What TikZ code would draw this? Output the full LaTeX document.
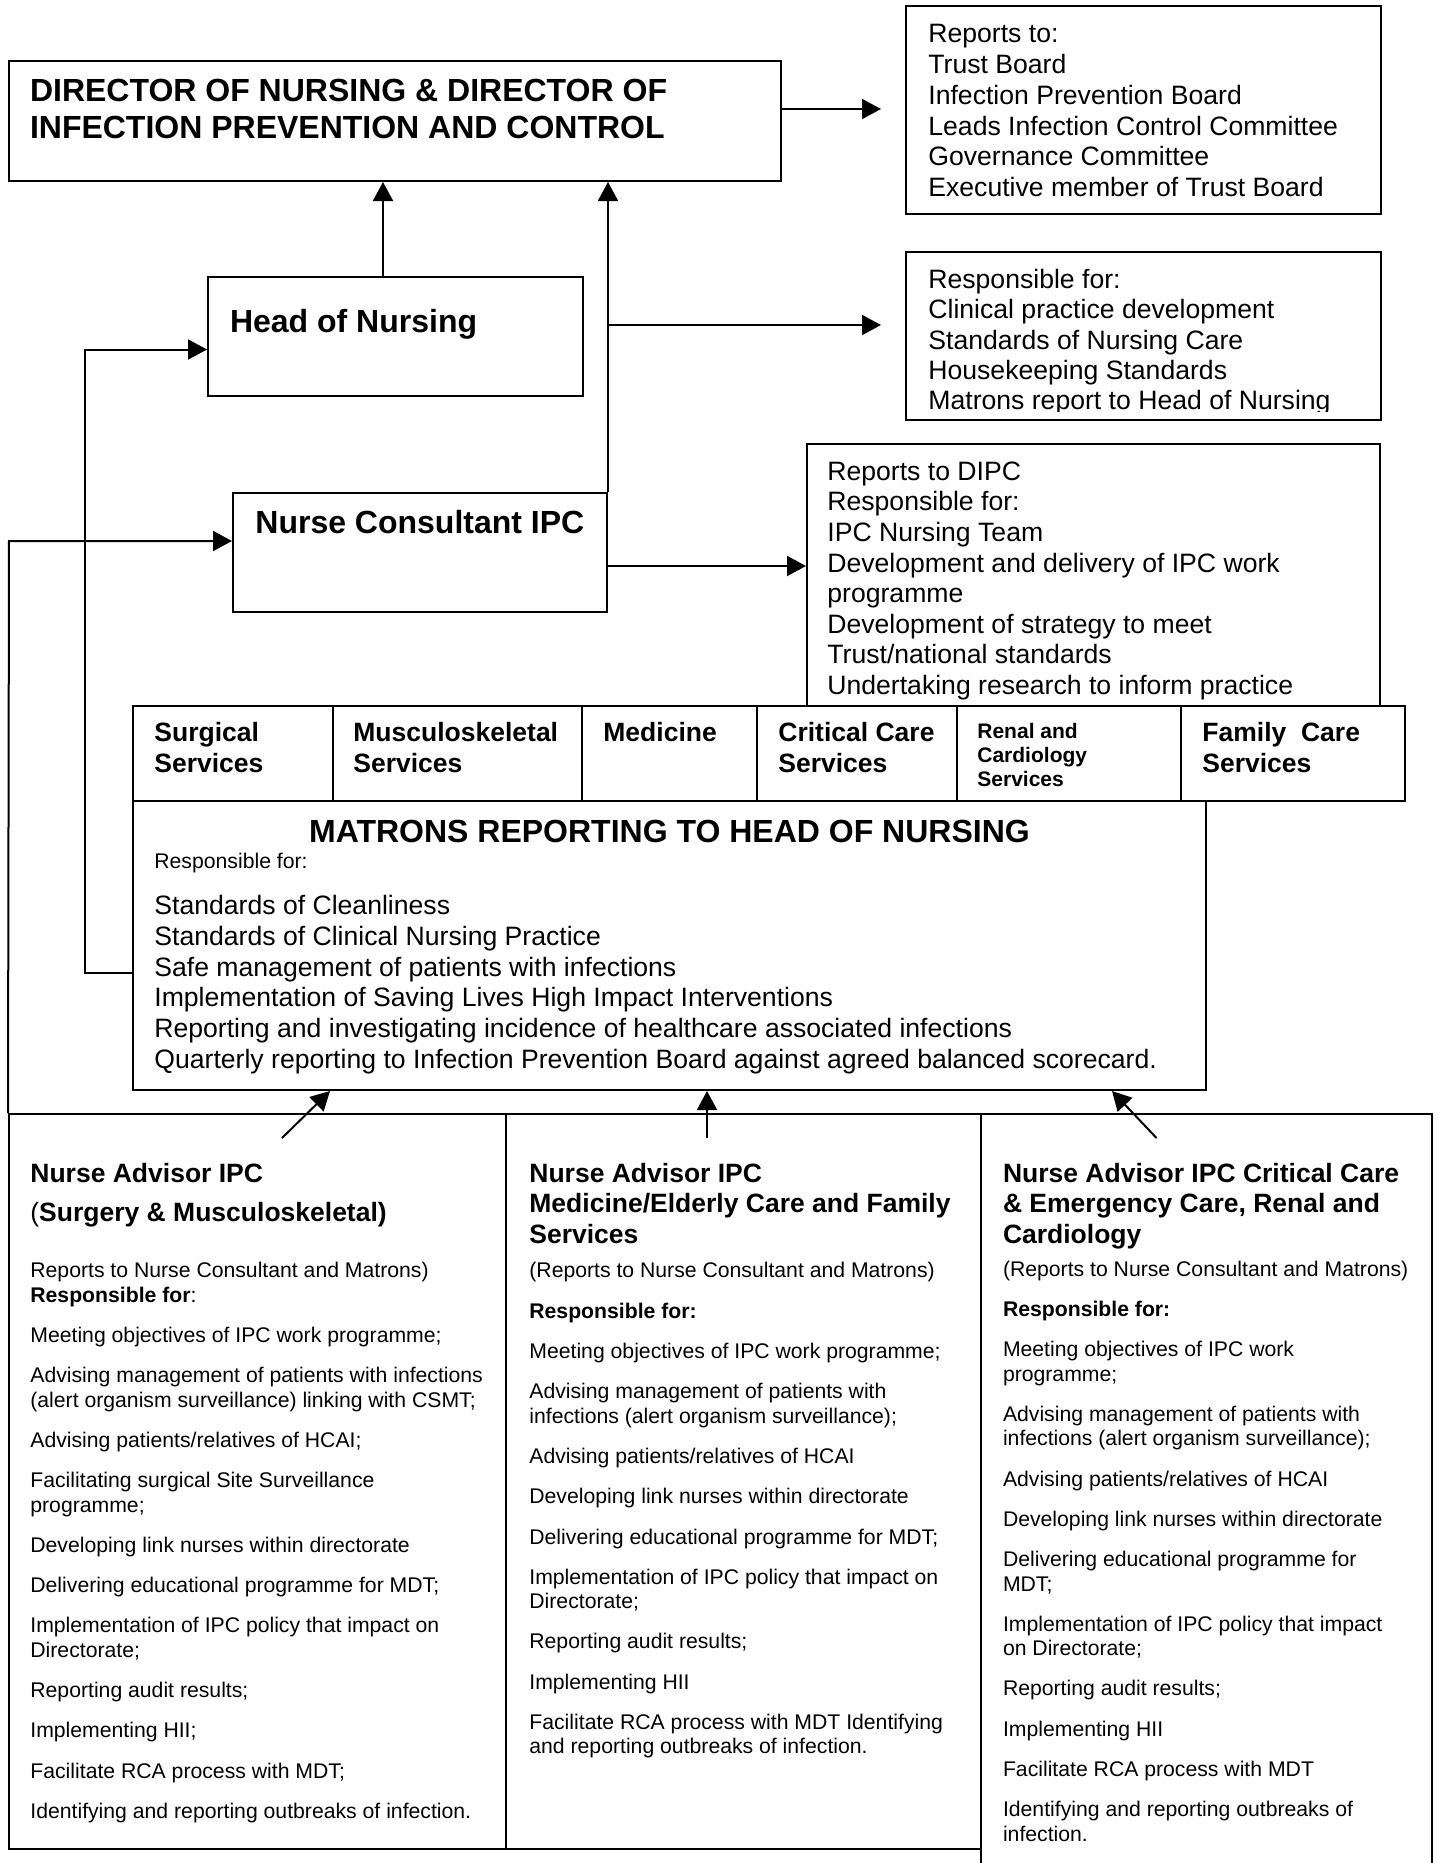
\documentclass[tikz,border=0pt]{standalone}
\usepackage{fontspec}
\setmainfont{Liberation Sans}
\usetikzlibrary{arrows.meta,fit}
\newcommand{\mystrut}{\rule{0pt}{0.8em}}
\begin{document}
\begin{tikzpicture}[x=0.5pt,y=-0.5pt,
  box/.style={draw, line width=1pt, inner sep=0pt},
  ln/.style={line width=1pt},
  arr/.style={line width=1pt, -{Triangle[length=9.5pt,width=10pt]}},
  txt/.style={inner sep=0pt, align=left, anchor=north west},
  one/.style={inner sep=0pt, anchor=base west},
  bigb/.style={font=\fontsize{16}{18.5}\selectfont\bfseries},
  bodyA/.style={font=\fontsize{13.3}{15.42}\selectfont},
  bodyB/.style={font=\fontsize{13.3}{15.2}\selectfont},
  bodyC/.style={font=\fontsize{13.3}{15.3}\selectfont},
  svc/.style={font=\fontsize{13.25}{15.5}\selectfont\bfseries},
  svcs/.style={font=\fontsize{10.5}{12}\selectfont\bfseries},
  ttl/.style={font=\fontsize{13.25}{15.25}\selectfont\bfseries},
  small/.style={font=\fontsize{10.6}{12.15}\selectfont}
]
\useasboundingbox (0,0) rectangle (1438,1863);

% ---------- boxes ----------
\node[box, fit={(9,61) (781,181)}] (dir) {};
\node[box, fit={(906,6) (1381,214)}] (rep) {};
\node[box, fit={(906,252) (1381,420)}] (resp) {};
\node[box, fit={(208,277) (583,396)}] (hon) {};
\node[box, fit={(233,493) (607,612)}] (nc) {};
\node[box, fit={(807,444) (1380,706)}] (ipc) {};
\node[box, fit={(133,706) (333,801)}] (sv1) {};
\node[box, fit={(333,706) (582,801)}] (sv2) {};
\node[box, fit={(582,706) (757,801)}] (sv3) {};
\node[box, fit={(757,706) (957,801)}] (sv4) {};
\node[box, fit={(957,706) (1181,801)}] (sv5) {};
\node[box, fit={(1181,706) (1405,801)}] (sv6) {};
\node[box, fit={(133,801) (1206,1090)}] (mat) {};
\node[box, fit={(9,1114) (506,1849)}] (na1) {};
\node[box, fit={(506,1114) (981,1849)}] (na2) {};
\node[inner sep=0pt, fit={(981,1114) (1432,1863)}] (na3) {};
\draw[ln] (na3.south west) -- (na3.north west) -- (na3.north east) -- (na3.south east);

% ---------- texts ----------
\node[txt, bigb] (dirt) at (29.6,75.4)
  {\mystrut DIRECTOR OF NURSING \& DIRECTOR OF\\INFECTION PREVENTION AND CONTROL};
\node[txt, bodyA] (rept) at (928,20.9)
  {\mystrut Reports to:\\Trust Board\\Infection Prevention Board\\Leads Infection Control Committee\\Governance Committee\\Executive member of Trust Board};
\begin{scope}
  \clip (906,252) rectangle (1381,411);
  \node[txt, bodyB] (respt) at (928,266.7)
    {\mystrut Responsible for:\\Clinical practice development\\Standards of Nursing Care\\Housekeeping Standards\\Matrons report to Head of Nursing};
\end{scope}
\node[one, bigb] (hont) at (229.6,332) {Head of Nursing};
\node[one, bigb] (nct) at (255,533) {Nurse Consultant IPC};
\node[txt, bodyC] (ipct) at (827,458.7)
  {\mystrut Reports to DIPC\\Responsible for:\\IPC Nursing Team\\Development and delivery of IPC work\\programme\\Development of strategy to meet\\Trust/national standards\\Undertaking research to inform practice};

\node[txt, svc] (sv1t) at (154,719.8) {\mystrut Surgical\\Services};
\node[txt, svc] (sv2t) at (353,719.8) {\mystrut Musculoskeletal\\Services};
\node[txt, svc] (sv3t) at (603,719.8) {\mystrut Medicine};
\node[txt, svc] (sv4t) at (778,719.8) {\mystrut Critical Care\\Services};
\node[txt, svcs] (sv5t) at (977,721.2) {\mystrut Renal and\\Cardiology\\Services};
\node[txt, svc] (sv6t) at (1202,719.8) {\mystrut Family \ Care\\Services};

\node[inner sep=0pt, anchor=base, bigb] (matt) at (669.5,842) {MATRONS REPORTING TO HEAD OF NURSING};
\node[one, small] (matr) at (154,868) {Responsible for:};
\node[txt, bodyA] (matl) at (154,892.7)
  {\mystrut Standards of Cleanliness\\Standards of Clinical Nursing Practice\\Safe management of patients with infections\\Implementation of Saving Lives High Impact Interventions\\Reporting and investigating incidence of healthcare associated infections\\Quarterly reporting to Infection Prevention Board against agreed balanced scorecard.};

\node[txt, ttl] (na1h) at (30,1160.8)
  {\mystrut Nurse Advisor IPC\\[4.5pt]{\mdseries(}Surgery \& Musculoskeletal)};
\node[txt, small] (na1b) at (30,1260.6)
  {\mystrut Reports to Nurse Consultant and Matrons)\\
   \textbf{Responsible for}:\\[8pt]
   Meeting objectives of IPC work programme;\\[8pt]
   Advising management of patients with infections\\
   (alert organism surveillance) linking with CSMT;\\[8pt]
   Advising patients/relatives of HCAI;\\[8pt]
   Facilitating surgical Site Surveillance\\
   programme;\\[8pt]
   Developing link nurses within directorate\\[8pt]
   Delivering educational programme for MDT;\\[8pt]
   Implementation of IPC policy that impact on\\
   Directorate;\\[8pt]
   Reporting audit results;\\[8pt]
   Implementing HII;\\[8pt]
   Facilitate RCA process with MDT;\\[8pt]
   Identifying and reporting outbreaks of infection.};

\node[txt, ttl] (na2h) at (529,1160.8)
  {\mystrut Nurse Advisor IPC\\Medicine/Elderly Care and Family\\Services};
\node[txt, small] (na2b) at (529,1260.6)
  {\mystrut (Reports to Nurse Consultant and Matrons)\\[8pt]
   \textbf{Responsible for:}\\[8pt]
   Meeting objectives of IPC work programme;\\[8pt]
   Advising management of patients with\\
   infections (alert organism surveillance);\\[8pt]
   Advising patients/relatives of HCAI\\[8pt]
   Developing link nurses within directorate\\[8pt]
   Delivering educational programme for MDT;\\[8pt]
   Implementation of IPC policy that impact on\\
   Directorate;\\[8pt]
   Reporting audit results;\\[8pt]
   Implementing HII\\[8pt]
   Facilitate RCA process with MDT Identifying\\
   and reporting outbreaks of infection.};

\node[txt, ttl] (na3h) at (1002.6,1160.8)
  {\mystrut Nurse Advisor IPC Critical Care\\\& Emergency Care, Renal and\\Cardiology};
\node[txt, small] (na3b) at (1002.6,1259)
  {\mystrut (Reports to Nurse Consultant and Matrons)\\[8pt]
   \textbf{Responsible for:}\\[8pt]
   Meeting objectives of IPC work\\
   programme;\\[8pt]
   Advising management of patients with\\
   infections (alert organism surveillance);\\[8pt]
   Advising patients/relatives of HCAI\\[8pt]
   Developing link nurses within directorate\\[8pt]
   Delivering educational programme for\\
   MDT;\\[8pt]
   Implementation of IPC policy that impact\\
   on Directorate;\\[8pt]
   Reporting audit results;\\[8pt]
   Implementing HII\\[8pt]
   Facilitate RCA process with MDT\\[8pt]
   Identifying and reporting outbreaks of\\
   infection.};

% ---------- connectors ----------
\coordinate (xa) at (383,0);
\draw[arr] (hon.north -| xa) -- (dir.south -| xa);
\draw[arr] (nc.north east) -- (nc.north east |- dir.south);
\coordinate (rtip) at (881,109);
\draw[arr] (dir.east |- rtip) -- (rtip);
\coordinate (rstip) at (881,325);
\draw[arr] (nc.north east |- rstip) -- (rstip);
\coordinate (ya) at (0,566);
\draw[arr] (nc.east |- ya) -- (ipc.west |- ya);
\coordinate (la) at (85,973);
\coordinate (lb) at (85,349.5);
\draw[arr] (mat.west |- la) -- (la) -- (lb) -- (hon.west |- lb);
\coordinate (lc) at (9,541);
\draw[arr] (na1.north west) -- (lc) -- (nc.west |- lc);
\coordinate (u1) at (282,1138);
\coordinate (v1) at (330,0);
\draw[arr] (u1) -- (mat.south -| v1);
\coordinate (u2) at (707,1138);
\draw[arr] (u2) -- (mat.south -| u2);
\coordinate (u3) at (1156.5,1138);
\coordinate (v3) at (1112,0);
\draw[arr] (u3) -- (mat.south -| v3);
\end{tikzpicture}
\end{document}
